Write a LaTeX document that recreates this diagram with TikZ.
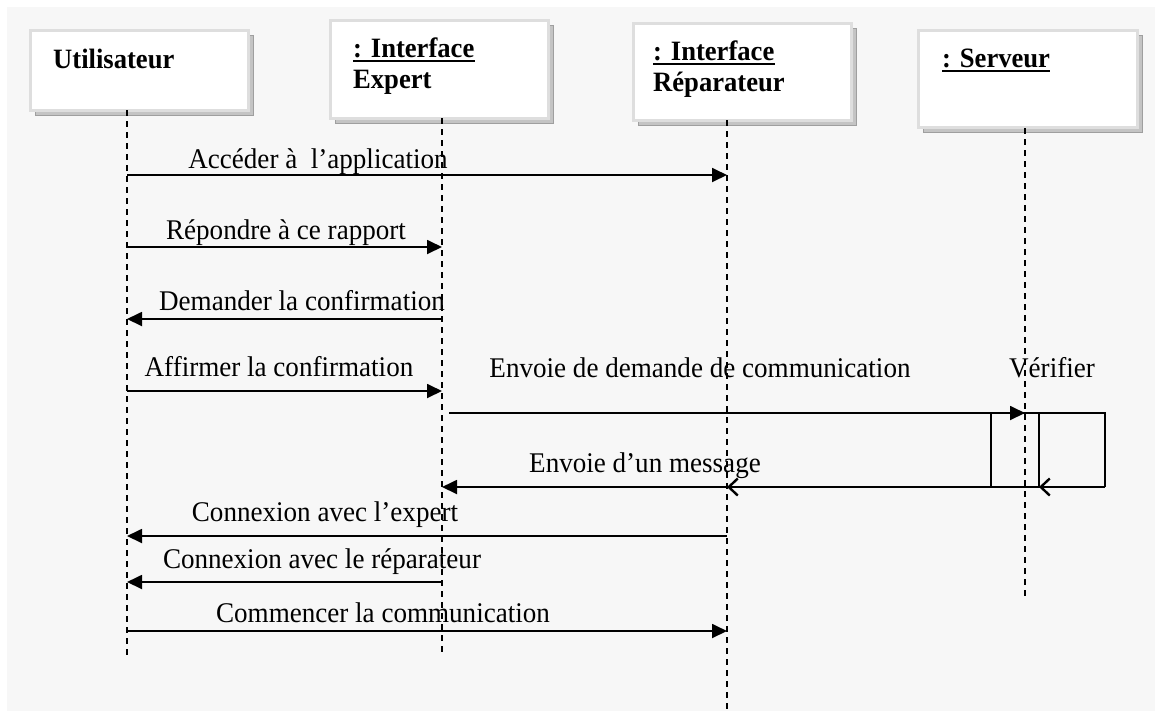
\documentclass[tikz,border=0pt]{standalone}
\usepackage{fontspec}
\setmainfont[FakeStretch=0.95]{Liberation Serif}
\usetikzlibrary{arrows.meta,shadows,calc}

\definecolor{pagebg}{HTML}{F7F7F7}
\definecolor{boxrim}{HTML}{DEDEDE}
\definecolor{shadowgray}{HTML}{C4C4C4}

\tikzset{
  actor/.style={draw=boxrim, line width=3pt, fill=white, anchor=north west,
    inner sep=0pt, outer sep=0pt,
    general shadow={fill=shadowgray, draw=gray!75, line width=0.6pt,
      shadow xshift=5pt, shadow yshift=-5pt}},
  head/.style={font=\fontsize{28}{32}\selectfont\bfseries, inner sep=0pt, anchor=base west},
  lbl/.style={font=\fontsize{28.5}{32}\selectfont, inner sep=0pt, anchor=base},
  life/.style={line width=1.4pt, dash pattern=on 6pt off 5pt},
  msg/.style={line width=1.8pt, -{Triangle[length=15pt,width=14pt]}},
  reply/.style={line width=1.8pt, -{Straight Barb[length=9pt,width=17pt,line width=2.4pt]}},
  plain/.style={line width=1.8pt},
  uline/.style={line width=2.6pt},
}

\begin{document}
\begin{tikzpicture}[x=1pt,y=-1pt]
  % page and framed background
  \fill[white] (0,0) rectangle (1155,713);
  \useasboundingbox (0,0) rectangle (1155,713);
  \fill[pagebg] (7,7) rectangle (1155,711);

  % object boxes
  \node[actor, minimum width=218pt, minimum height=80pt] (user) at (30,30) {};
  \node[actor, minimum width=218pt, minimum height=98pt] (expert) at (330,20) {};
  \node[actor, minimum width=218pt, minimum height=97pt] (repar) at (633,23) {};
  \node[actor, minimum width=219pt, minimum height=97pt] (serv) at (918,30) {};

  % box titles
  \node[head] (tuser) at (53,68) {Utilisateur};
  \node[head] (te1) at (353,57) {: Interface};
  \node[head] (te2) at (353,88) {Expert};
  \node[head] (tr1) at (653,60) {: Interface};
  \node[head] (tr2) at (653,91) {Réparateur};
  \node[head] (ts1) at (942,67) {: Serveur};
  \draw[uline] ($(te1.base west)+(0,4)$) -- ($(te1.base east)+(0,4)$);
  \draw[uline] ($(tr1.base west)+(0,4)$) -- ($(tr1.base east)+(0,4)$);
  \draw[uline] ($(ts1.base west)+(0,4)$) -- ($(ts1.base east)+(0,4)$);

  % lifelines
  \coordinate (lu) at (127,110);  \coordinate (lu2) at (127,658);
  \coordinate (le) at (442,118);  \coordinate (le2) at (442,652);
  \coordinate (lr) at (727,120);  \coordinate (lr2) at (727,713);
  \coordinate (ls) at (1025,128); \coordinate (ls2) at (1025,600);
  \draw[life] (lu) -- (lu2);
  \draw[life] (le) -- (le2);
  \draw[life] (lr) -- (lr2);
  \draw[life] (ls) -- (ls2);

  % message rows
  \coordinate (m1) at (0,175);
  \coordinate (m2) at (0,247);
  \coordinate (m3) at (0,319);
  \coordinate (m4) at (0,391);
  \coordinate (m5) at (0,413);
  \coordinate (m6) at (0,487);
  \coordinate (m7) at (0,536);
  \coordinate (m8) at (0,582);
  \coordinate (m9) at (0,631);

  % server activation and self call
  \node[draw, line width=1.8pt, anchor=north west, minimum width=48pt,
        minimum height=74pt, inner sep=0pt, outer sep=0pt] (act) at (991,413) {};
  \coordinate (sendStart) at (449,413);
  \coordinate (loopTop) at (1105,413);
  \coordinate (loopBot) at (1105,487);

  % messages
  \draw[msg] (lu |- m1) -- (lr |- m1);
  \draw[msg] (lu |- m2) -- (le |- m2);
  \draw[msg] (le |- m3) -- (lu |- m3);
  \draw[msg] (lu |- m4) -- (le |- m4);
  \draw[msg] (sendStart) -- (ls |- m5);
  \draw[plain] (ls |- m5) -- (loopTop) -- (loopBot);
  \draw[reply] (loopBot) -- (act.south east);
  \draw[reply] (act.south west) -- (lr |- m6);
  \draw[msg] (lr |- m6) -- (le |- m6);
  \draw[msg] (lr |- m7) -- (lu |- m7);
  \draw[msg] (le |- m8) -- (lu |- m8);
  \draw[msg] (lu |- m9) -- (lr |- m9);

  % message labels
  \node[lbl] (l1) at (318,168) {Accéder à\ \ l’application};
  \node[lbl] (l2) at (286,239) {Répondre à ce rapport};
  \node[lbl] (l3) at (302,310) {Demander la confirmation};
  \node[lbl] (l4) at (279,376) {Affirmer la confirmation};
  \node[lbl] (l5) at (700,377) {Envoie de demande de communication};
  \node[lbl] (l6) at (1052,377) {Vérifier};
  \node[lbl] (l7) at (645,472) {Envoie d’un message};
  \node[lbl] (l8) at (325,521) {Connexion avec l’expert};
  \node[lbl] (l9) at (322,568) {Connexion avec le réparateur};
  \node[lbl] (l10) at (383,622) {Commencer la communication};
\end{tikzpicture}
\end{document}
